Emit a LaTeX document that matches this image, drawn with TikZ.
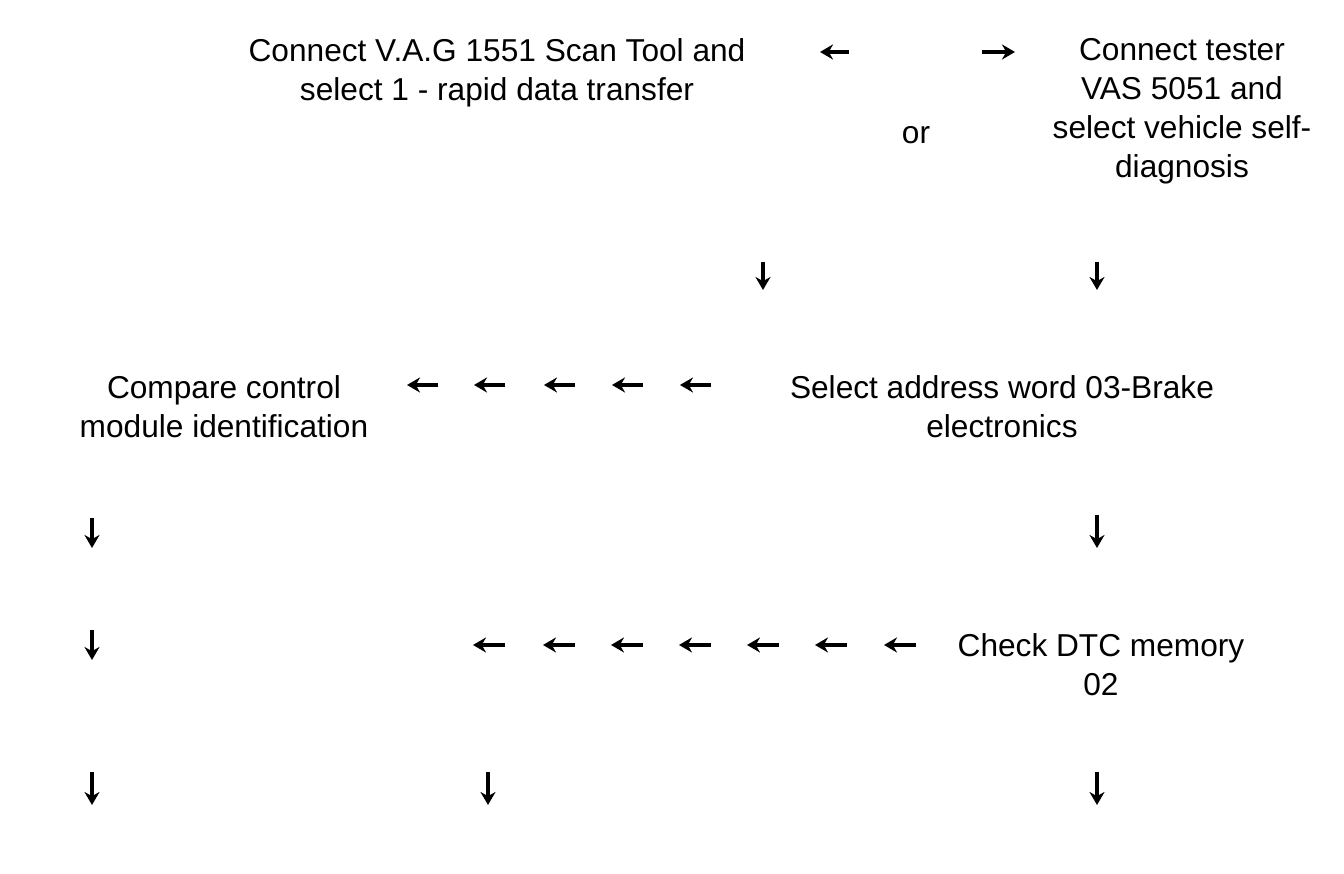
\documentclass[tikz,border=0pt]{standalone}
\usepackage{fontspec}
\setmainfont{Liberation Sans}
\usetikzlibrary{arrows.meta, positioning}

\begin{document}
\begin{tikzpicture}[x=0.01cm, y=-0.01cm,
  txt/.style={align=center, inner sep=0pt, font=\fontsize{9}{11.1}\selectfont},
  arrow/.style={-{Stealth[length=1.3mm, width=1.5mm]}, line width=0.9pt}
]
\useasboundingbox (0,0) rectangle (1344,874);

\node[txt] (vag) at (497,73) {Connect V.A.G 1551 Scan Tool and\\select 1 - rapid data transfer};
\node[txt] (vas) at (1182,111) {Connect tester\\VAS 5051 and\\select vehicle self-\\diagnosis};
\node[txt] (or) at (916,135) {or};
\node[txt] (compare) at (224,407) {Compare control\\module identification};
\node[txt] (address) at (1002,407) {Select address word 03-Brake\\electronics};
\node[txt] (dtc) at (1101,665) {Check DTC memory\\02};

\coordinate (l1) at (849,52);
\coordinate (l2) at (820,52);
\coordinate (r1) at (982,52);
\coordinate (r2) at (1015,52);
\draw[arrow] (l1) -- (l2);
\draw[arrow] (r1) -- (r2);

\foreach \x/\ya/\yb [count=\i] in {763/262/290, 1097/262/290, 92/518/548, 1097/515/548, 92/630/660, 92/772/805, 488/772/805, 1097/772/805}{
  \coordinate (d\i a) at (\x,\ya);
  \coordinate (d\i b) at (\x,\yb);
  \draw[arrow] (d\i a) -- (d\i b);
}

\foreach \x [count=\i] in {438,505,575,643,711}{
  \coordinate (h\i a) at (\x,385);
  \coordinate (h\i b) at (\x-31,385);
  \draw[arrow] (h\i a) -- (h\i b);
}

\foreach \x [count=\i] in {505,575,643,711,779,847,916}{
  \coordinate (k\i a) at (\x,645);
  \coordinate (k\i b) at (\x-32,645);
  \draw[arrow] (k\i a) -- (k\i b);
}

\end{tikzpicture}
\end{document}
